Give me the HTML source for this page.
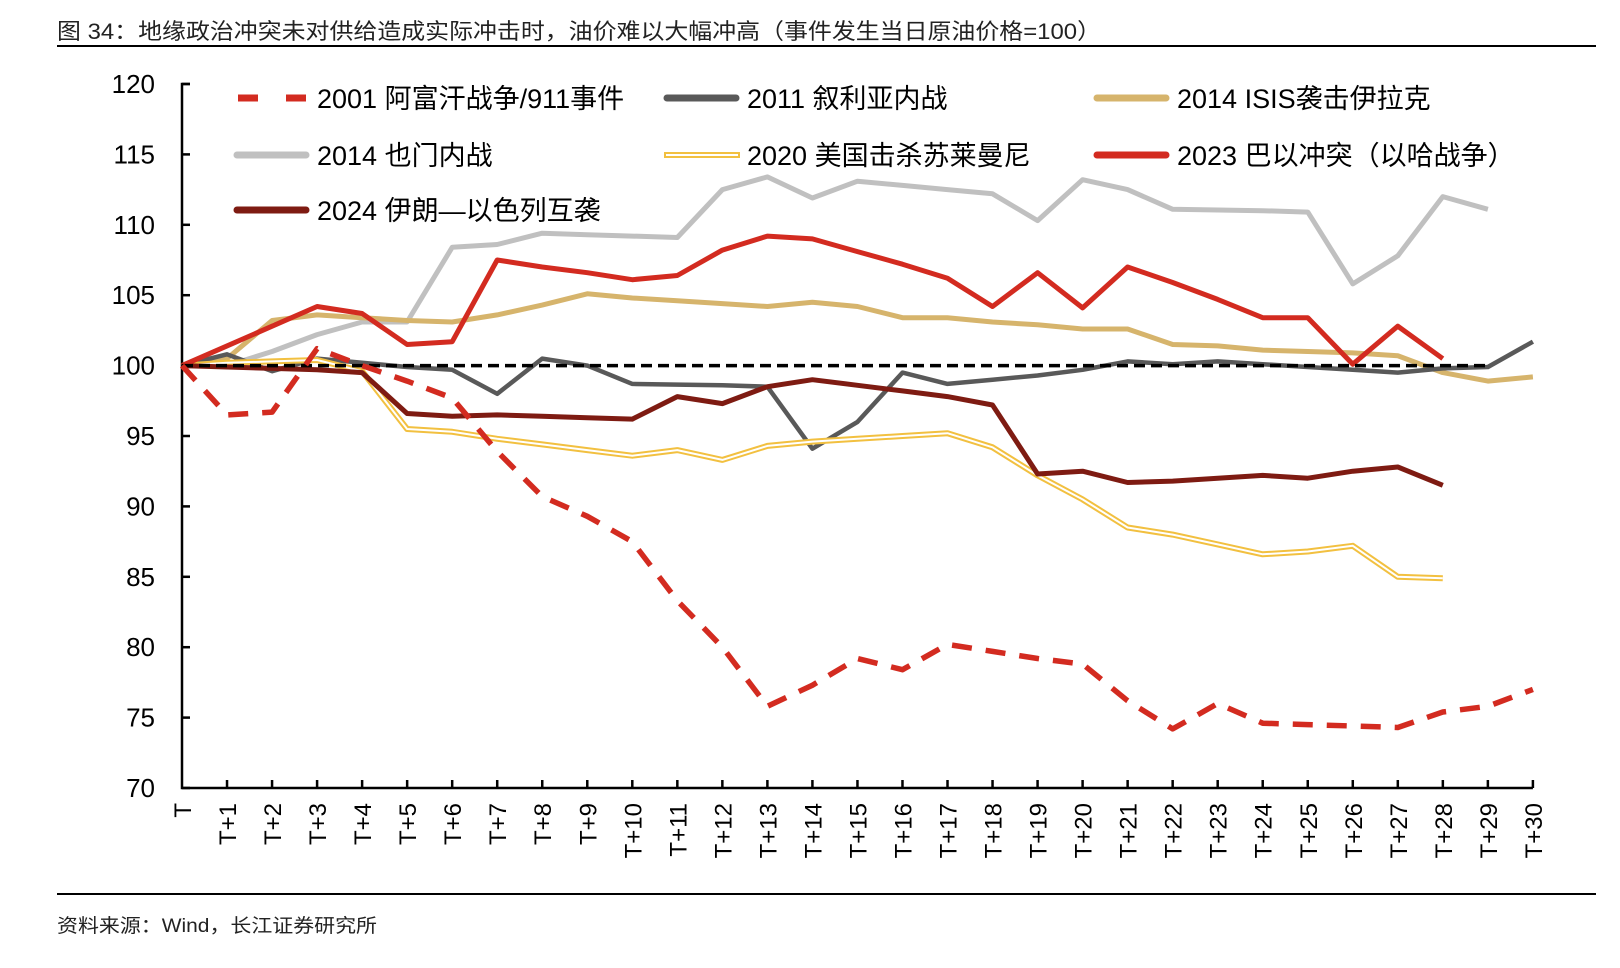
<!DOCTYPE html>
<html><head><meta charset="utf-8"><style>
html,body{margin:0;padding:0;background:#fff;}
svg{display:block;font-family:"Liberation Sans","Noto Sans CJK SC",sans-serif;}
</style></head><body>
<svg id="s" width="1620" height="968" viewBox="0 0 1620 968" xmlns="http://www.w3.org/2000/svg">
<text x="57" y="39" font-size="22" fill="#222" textLength="1044" lengthAdjust="spacingAndGlyphs">图 34：地缘政治冲突未对供给造成实际冲击时，油价难以大幅冲高（事件发生当日原油价格=100）</text>
<line x1="57" y1="46" x2="1596" y2="46" stroke="#000" stroke-width="2"/>
<line x1="57" y1="894" x2="1596" y2="894" stroke="#000" stroke-width="2"/>
<text x="57" y="932" font-size="19" fill="#222" textLength="320" lengthAdjust="spacingAndGlyphs">资料来源：Wind，长江证券研究所</text>
<g id="g"></g>
</svg>
<script>
const g=document.getElementById('g');
const X0=182,DX=45.03,Y=v=>84+(120-v)*14.08;
let h='';
h+=`<path d="M${X0+8},84H${X0}V788H${X0+30*DX}" fill="none" stroke="#000" stroke-width="2.5"/>`;
for(let v=70;v<=120;v+=5){const y=Y(v);h+=`<line x1="${X0}" y1="${y}" x2="${X0+8}" y2="${y}" stroke="#000" stroke-width="2.5"/><text x="155" y="${y+9}" font-size="26" text-anchor="end">${v}</text>`;}
for(let i=0;i<=30;i++){const x=X0+i*DX;if(i>0)h+=`<line x1="${x}" y1="788" x2="${x}" y2="780" stroke="#000" stroke-width="2.5"/>`;
h+=`<text transform="translate(${x+9},803) rotate(-90)" font-size="24" text-anchor="end">${i?'T+'+i:'T'}</text>`;}
const P=a=>a.map((v,i)=>(i?'L':'M')+(X0+i*DX).toFixed(1)+','+Y(v).toFixed(1)).join('');
const S={
d2011:[100,100.8,99.6,100.5,100.2,99.9,99.7,98,100.5,100,98.7,98.65,98.6,98.5,94.1,96,99.5,98.7,99,99.3,99.7,100.3,100.1,100.3,100.1,99.9,99.7,99.5,99.8,99.9,101.7],
isis:[100,100.5,103.2,103.6,103.4,103.2,103.1,103.6,104.3,105.1,104.8,104.6,104.4,104.2,104.5,104.2,103.4,103.4,103.1,102.9,102.6,102.6,101.5,101.4,101.1,101,100.9,100.7,99.5,98.9,99.2],
yem:[100,100,101,102.2,103.1,103.1,108.4,108.6,109.4,109.3,109.2,109.1,112.5,113.4,111.9,113.1,112.8,112.5,112.2,110.3,113.2,112.5,111.1,111.05,111,110.9,105.8,107.8,112,111.1],
y20:[100,100.2,100.3,100.4,99.6,95.5,95.3,94.8,94.4,94,93.6,94,93.3,94.3,94.6,94.8,95,95.2,94.2,92.2,90.5,88.5,88,87.3,86.6,86.8,87.2,85,84.9],
r23:[100,101.4,102.8,104.2,103.7,101.5,101.7,107.5,107,106.6,106.1,106.4,108.2,109.2,109,108.1,107.2,106.2,104.2,106.6,104.1,107,105.9,104.7,103.4,103.4,100.1,102.8,100.5],
r24:[100,99.9,99.8,99.7,99.5,96.6,96.4,96.5,96.4,96.3,96.2,97.8,97.3,98.5,99,98.6,98.2,97.8,97.2,92.3,92.5,91.7,91.8,92,92.2,92,92.5,92.8,91.5],
d01:[100,96.5,96.7,101.2,100,98.9,97.7,93.9,90.7,89.3,87.5,83.3,80,75.8,77.3,79.2,78.4,80.2,79.7,79.2,78.8,76.2,74.2,76,74.6,74.5,74.4,74.3,75.4,75.8,77]};
const L=(d,c,w,da)=>`<path d="${d}" fill="none" stroke="${c}" stroke-width="${w}" stroke-linejoin="round" ${da?'stroke-dasharray="'+da+'"':''}/>`;
h+=L(P(S.yem),'#c0c0c0',5);
h+=L(P(S.isis),'#d6b46c',5);
h+=L(P(S.d2011),'#595959',4.5);
h+=L(P(S.y20),'#f2c040',6)+L(P(S.y20),'#fff',2);
h+=L(P(S.r24),'#7e1b12',5);
h+=L(P(S.r23),'#d32b20',5);
h+=L(`M${X0},${Y(100)}H${X0+29*DX}`,'#000',3.5,'11 6');
h+=L(P(S.d01),'#d32b20',5.5,'20 14');
const leg=[[234,98,'#d32b20','2001 阿富汗战争/911事件','d'],[664,98,'#595959','2011 叙利亚内战'],[1094,98,'#d6b46c','2014 ISIS袭击伊拉克'],
[234,155,'#c0c0c0','2014 也门内战'],[664,155,'#f2c040','2020 美国击杀苏莱曼尼','y'],[1094,155,'#d32b20','2023 巴以冲突（以哈战争）'],[234,210,'#7e1b12','2024 伊朗—以色列互袭']];
for(const [x,y,c,t,k] of leg){
 if(k=='d')h+=L(`M${x+4},${y}H${x+74}`,c,7,'20 28');
 else if(k=='y')h+=L(`M${x},${y}H${x+76}`,c,6)+L(`M${x+2},${y}H${x+74}`,'#fff',2);
 else h+=`<path d="M${x+3},${y}H${x+72}" stroke="${c}" stroke-width="7" stroke-linecap="round"/>`;
 h+=`<text x="${x+83}" y="${y+10}" font-size="27">${t}</text>`;}
g.innerHTML=h;
</script>
</body></html>
